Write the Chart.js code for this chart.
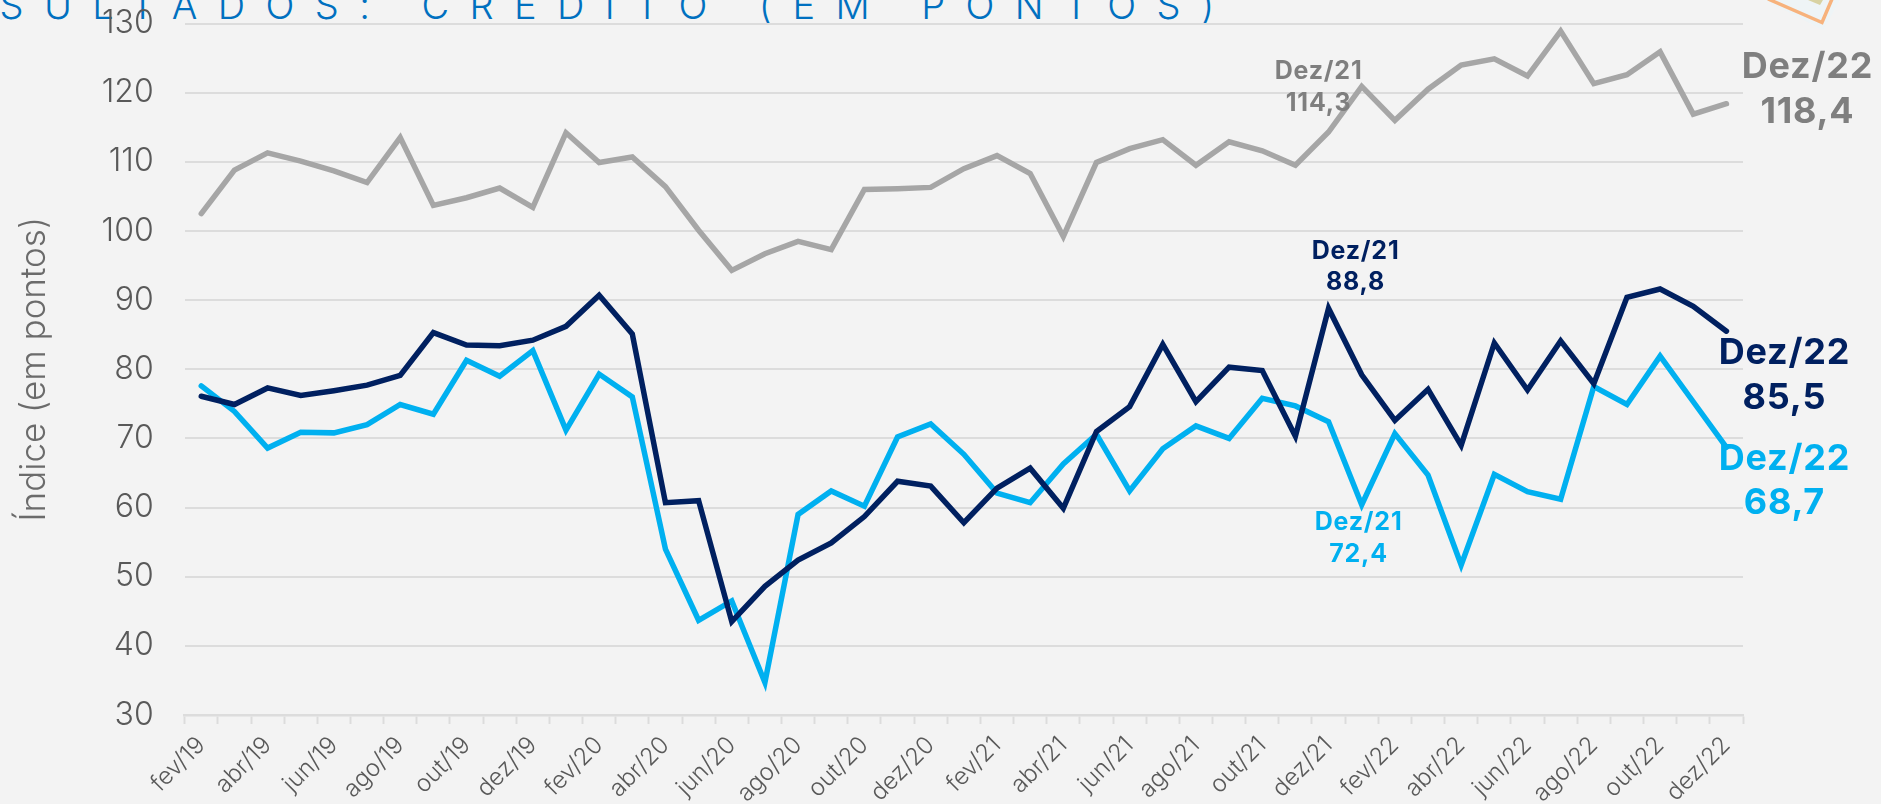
<!DOCTYPE html>
<html lang="pt"><head><meta charset="utf-8">
<style>
html,body{margin:0;padding:0;width:1881px;height:804px;overflow:hidden;background:#f3f3f3}
#t{position:absolute;left:-88px;top:-21px;font:300 38px/52px Inter,sans-serif;letter-spacing:20.4px;color:#0070c0;white-space:nowrap}
#w{position:absolute;left:0;top:0;width:1881px;height:804px}
</style>
<script src="https://cdn.jsdelivr.net/npm/chart.js@4"></script>
</head><body>
<div id="t">RESULTADOS: CRÉDITO (EM PONTOS)</div>
<div id="w"><canvas id="c" width="1881" height="804"></canvas></div>
<script>
const months = ['fev/19','mar/19','abr/19','mai/19','jun/19','jul/19','ago/19','set/19','out/19','nov/19','dez/19','jan/20','fev/20','mar/20','abr/20','mai/20','jun/20','jul/20','ago/20','set/20','out/20','nov/20','dez/20','jan/21','fev/21','mar/21','abr/21','mai/21','jun/21','jul/21','ago/21','set/21','out/21','nov/21','dez/21','jan/22','fev/22','mar/22','abr/22','mai/22','jun/22','jul/22','ago/22','set/22','out/22','nov/22','dez/22'];
const serieCinza = [102.5,108.8,111.3,110.1,108.7,107,113.5,103.7,104.8,106.2,103.4,114.2,109.9,110.7,106.4,100.1,94.3,96.7,98.5,97.3,106,106.1,106.3,109,110.9,108.3,99.2,109.9,111.9,113.2,109.5,112.9,111.6,109.5,114.3,120.9,116,120.5,124,124.9,122.4,128.9,121.3,122.6,125.9,116.9,118.4];
const serieEscura = [76.1,74.9,77.3,76.2,76.9,77.7,79.1,85.3,83.5,83.4,84.2,86.2,90.7,85.1,60.7,61,43.5,48.6,52.4,54.9,58.7,63.8,63.1,57.8,62.8,65.7,59.9,71,74.6,83.6,75.3,80.3,79.8,70.3,88.8,79.2,72.6,77.1,69,83.8,77,84.1,77.9,90.4,91.6,89.1,85.5];
const serieClara = [77.6,73.9,68.6,70.9,70.8,72,74.9,73.5,81.3,79,82.7,71.2,79.3,76,54,43.7,46.5,34.7,59,62.4,60.2,70.2,72.1,67.7,62.1,60.7,66.3,70.6,62.4,68.5,71.8,70,75.8,74.7,72.4,60.4,70.7,64.7,51.7,64.8,62.3,61.2,77.5,74.9,81.9,75.3,68.7];
const COR = {cinza:'#a6a6a6', escura:'#002060', clara:'#00b0f0', grid:'#dcdcdc', tick:'#595959'};
const F = 'Inter, sans-serif';

const callouts = [
  {ds:2,i:34,dx:-10,dy1:-61,dy2:-29,size:25,color:'#7f7f7f',title:'Dez/21',text:'114,3'},
  {ds:2,i:46,dx:81,dy1:-37,dy2:8,size:36,color:'#7f7f7f',title:'Dez/22',text:'118,4'},
  {ds:0,i:34,dx:27,dy1:-57,dy2:-26,size:25,color:'#002060',title:'Dez/21',text:'88,8'},
  {ds:0,i:46,dx:58,dy1:22,dy2:67,size:36,color:'#002060',title:'Dez/22',text:'85,5'},
  {ds:1,i:34,dx:30,dy1:101,dy2:133,size:25,color:'#00b0f0',title:'Dez/21',text:'72,4'},
  {ds:1,i:46,dx:58,dy1:12,dy2:56,size:36,color:'#00b0f0',title:'Dez/22',text:'68,7'}
];

const decor = {
  id:'decor',
  afterDatasetsDraw(chart){
    const c = chart.ctx;
    c.save();
    c.fillStyle='#eef4f6';
    c.beginPath();c.moveTo(1765,0);c.lineTo(1823,30);c.lineTo(1840,0);c.closePath();c.fill();
    c.fillStyle='#d8d2a2';
    c.beginPath();c.moveTo(1808,0);c.lineTo(1820,5);c.lineTo(1823,0);c.closePath();c.fill();
    c.strokeStyle='#f7b27c';c.lineWidth=3.5;c.lineJoin='miter';
    c.beginPath();c.moveTo(1768,-1);c.lineTo(1822,22.5);c.lineTo(1832,-1);c.stroke();
    c.textAlign='center';c.textBaseline='middle';
    for(const k of callouts){
      const p = chart.getDatasetMeta(k.ds).data[k.i];
      c.fillStyle=k.color;
      c.font=`700 ${k.size}px ${F}`;
      c.letterSpacing='0.8px';
      c.fillText(k.title,p.x+k.dx,p.y+k.dy1);
      c.fillText(k.text,p.x+k.dx,p.y+k.dy2);
    }
    c.restore();
  }
};

new Chart(document.getElementById('c'),{
  type:'line',
  data:{labels:months,datasets:[
    {label:'Escura',data:serieEscura,borderColor:COR.escura},
    {label:'Clara',data:serieClara,borderColor:COR.clara},
    {label:'Cinza',data:serieCinza,borderColor:COR.cinza}
  ].map(d=>({...d,borderWidth:5.5,pointRadius:0,tension:0,fill:false,borderCapStyle:'round',borderJoinStyle:'miter',clip:false}))},
  options:{
    responsive:false,animation:false,
    layout:{padding:{top:23.5,right:138,left:0,bottom:0}},
    plugins:{legend:{display:false},tooltip:{enabled:false},title:{display:false}},
    scales:{
      x:{
        type:'category',offset:true,
        afterFit(s){s.height=89;s.paddingLeft=0;s.paddingRight=0;s.paddingTop=0;s.paddingBottom=0;},
        border:{color:COR.grid,width:2.5},
        grid:{display:true,drawOnChartArea:false,drawTicks:true,tickLength:9,tickWidth:2,tickColor:COR.grid,offset:true},
        ticks:{autoSkip:false,maxRotation:45,minRotation:45,padding:7,color:COR.tick,
          font:{family:F,size:24,weight:300},
          callback(v,i){return i%2===0?this.getLabelForValue(v):'';}}
      },
      y:{
        min:30,max:130,
        afterFit(s){s.width=184.7;s.paddingLeft=0;s.paddingRight=0;s.paddingTop=0;s.paddingBottom=0;},
        border:{display:false},
        grid:{color:COR.grid,lineWidth:2,drawTicks:false},
        ticks:{stepSize:10,padding:31,color:COR.tick,font:{family:F,size:32,weight:300}},
        title:{display:true,text:'Índice (em pontos)',color:'#6b6b6b',font:{family:F,size:35,weight:300},padding:{top:13,bottom:0}}
      }
    }
  },
  plugins:[decor]
});
</script>
</body></html>
